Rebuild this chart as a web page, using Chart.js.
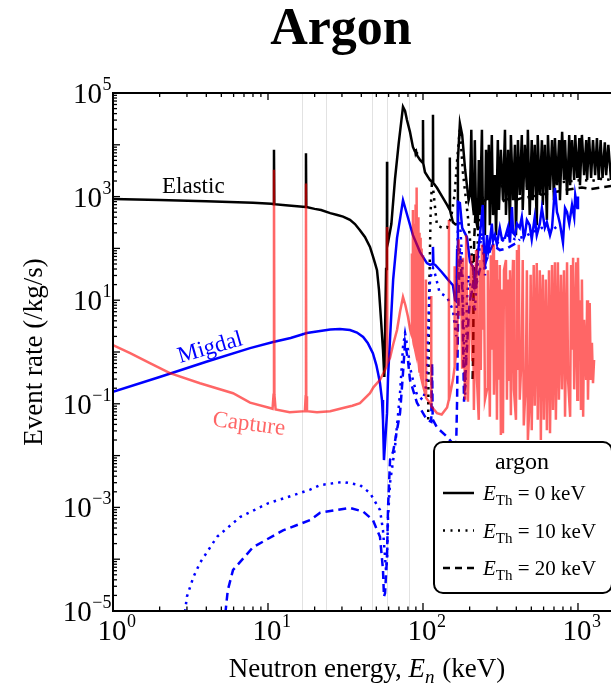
<!DOCTYPE html>
<html>
<head>
<meta charset="utf-8">
<script src="https://cdn.jsdelivr.net/npm/chart.js@4.4.1/dist/chart.umd.min.js"></script>
<style>html,body{margin:0;padding:0;background:#fff;}canvas{display:block;}</style>
</head>
<body>
<canvas id="c" width="611" height="688"></canvas>
<script>
// ---------------- data ----------------
const xTickExps = [0, 1, 2, 3];
const yTickExps = [5, 3, 1, -1, -3, -5];
const guideE = [16.6, 23.7, 46.9, 58.6, 81.2];
const legendThresholds = ['0', '10', '20'];

// Elastic, E_Th = 0 keV
const elasticE = [
 1,2,4,8,10.5,10.88,10.93,10.98,13,17.5,
 17.58,17.66,20,22,25.2,28,30.5,33.8,36.4,39.2,
 42.2,45.5,47.5,49,50.5,52,53.6,55.2,56.3,57.0,
 57.8,58.45,58.6,58.75,59.5,62.5,66,69.7,74.3,76.6,
 78.8,82.4,86.1,88.4,88.7,89.6,90.5,91.4,95.7,99.6,
 100,100.4,103,111,115.6,116,116.4,123,133,143,
 148.6,149,149.4,156,162,166,168,173,
 179,187,192,197,201,205,208,213,216,220,
 226,229,233,240,243,251,255,259,266,270,
 278,283,291,296,304,309,318,328,338,343,
 354,364,369,381,392,398,410,421,434,440,
 454,468,475,488,503,510,526,542,550,567,
 585,593,611,630,640,660,680,700,710,732,
 755,765,790,812,825,850,878,890,915,945,
 960,990,1020,1030,1060,1095,1130,1145,1180,1215,
 1250,1290,1325,1360,1400,1440,1490,1520,1570,1633];
const elasticR = [
 900,860,810,760,725,715,8000,715,680,630,
 6900,630,580,550,480,440,410,355,295,225,
 166,107,71,52,38,15.8,4.2,1.1,0.33,3,
 40,90,4700,110,130,295,2200,10700,54000,45000,
 30000,17800,9100,7600,8200,6800,7300,6300,5100,4500,
 30000,4400,2950,2080,1900,38000,1850,1480,1000,690,
 560,5700,540,320,290,296,5100,26000,
 15500,3300,1660,850,1070,19500,850,440,12300,355,
 225,5100,440,19500,690,180,8000,850,10000,280,
 15500,440,2600,180,12300,550,8000,850,19500,440,
 8000,225,15500,850,10000,180,12300,1070,15500,550,
 10000,1350,19500,440,12300,850,10000,280,15500,1070,
 12300,690,10000,355,15500,1350,12300,850,13500,1660,
 12300,850,17800,2100,12300,1070,15500,1660,12300,2100,
 15500,2300,13500,1660,15500,2600,12300,2100,14100,2300,
 12300,2600,13500,2100,12300,2300,11200,2600,10000,2100];

// Elastic, E_Th = 10 keV
const elastic10E = [
 108,109.5,112,114,116,123,133,143,152,160,
 166,171,173,176,181,195,201,208,216,220,
 226,233,243,259,270,291,313,338,364,404,
 454,503,585,680,790,915,1060,1215,1400,1633];
const elastic10R = [
 0.05,10,500,1660,1500,280,250,250,400,1100,
 5000,14000,20000,10000,2900,400,150,60,16,20,
 150,500,1000,1300,1850,1600,1530,1700,2100,1900,
 1500,1700,1600,1800,1900,2000,2100,2000,2200,2100];

// Elastic, E_Th = 20 keV
const elastic20E = [
 209,211,212,214,218,223,233,243,259,283,
 313,348,392,440,503,585,680,790,915,1060,
 1215,1400,1633];
const elastic20R = [
 0.3,1,20,150,500,700,600,800,900,800,
 750,900,850,950,1000,1100,1200,1300,1400,1500,
 1400,1500,1600];

// Migdal, E_Th = 0 keV
const migdalE = [
 1,2,4,7.66,10.8,14,17.8,21.7,25.2,29.1,
 33.8,37.5,41.1,44,47.5,50,51.3,52.8,54.4,55.2,
 56.0,58.6,59.5,62.5,64.2,68,74.3,80,86.1,95.7,
 106,111,115.2,116,116.8,120,132,145,156,161,
 164,166,168,173,179,192,
 201,210,216,233,243,247,251,259,264,270,
 278,283,291,300,313,323,338,354,364,375,
 381,392,404,421,434,447,454,468,488,503,
 526,542,567,585,611,630,660,680,710,732,
 742,765,800,825,850,878,915,945,960,990,
 1000];
const migdalR = [
 0.17,0.33,0.65,1.19,1.56,1.86,2.33,2.54,2.72,2.78,
 2.66,2.38,1.95,1.5,0.95,0.56,0.39,0.25,0.118,0.049,
 0.0082,0.066,0.33,5.6,25,160,850,390,180,85,
 52,48,50,107,50,48,35,25,19.5,10,
 9.5,93,790,750,250,165,
 55,44,22,180,690,100,42,180,90,130,
 300,140,180,120,250,150,160,260,130,630,
 200,180,300,250,400,160,180,350,280,150,
 400,180,300,600,250,320,180,250,1480,500,
 440,300,130,600,500,300,690,400,1070,600,
 1000];

// Migdal, E_Th = 10 keV
const migdal10E = [
 2.83,3.0,3.3,3.64,4.69,6.6,10,14,18.7,21.7,
 30.5,39.2,45.5,52.8,55.2,56.9,57.7,58.6,59.5,61.3,
 66,71.1,74.3,76.6,80,82.4,86.1,91.4,100,104,
 106,108,111,116,120,128,143,156,161,164,
 166,168,173,179,184,187,190,192,197,201,
 210,216,226,240,251,259,270,291,313,348,
 392,454,503,585,680,765];
const migdal10R = [
 5e-6,1.9e-5,4.5e-5,8.5e-5,2.7e-4,6.5e-4,1.2e-3,1.65e-3,2.2e-3,2.7e-3,
 3.1e-3,2.7e-3,1.9e-3,8.9e-4,3.6e-4,1.1e-4,6.2e-5,9.6e-5,6.5e-4,3e-3,
 0.0148,0.16,1.25,2.3,1.1,0.51,0.29,0.15,0.118,0.2,
 0.29,2.66,25,42,31,14,11.5,6.4,3,2,
 30,300,350,60,1.0,0.15,1,10,30,20,
 12,6,60,200,30,120,90,140,120,180,
 150,170,200,250,220,300];

// Migdal, E_Th = 20 keV
const migdal20E = [
 5.2,5.5,5.95,8.0,12.5,18.7,21.7,33.8,41.1,47.5,
 52.8,55.2,56.0,56.9,58.6,59.5,61.3,64.2,71.1,74.3,
 76.6,80,82.4,91.4,106,113,114.5,115.5,123,143,
 156,161,164,166,168,171,173,179,184,187,
 192,197,201,210,216,233,251,270,283,313,
 348,404,421];
const migdal20R = [
 5e-6,2.5e-5,6.2e-5,1.7e-4,3.6e-4,5.7e-4,7.9e-4,9.8e-4,8.3e-4,5.7e-4,
 2.7e-4,6.2e-5,1.9e-5,2.2e-5,1.1e-4,1.0e-3,8.2e-3,0.012,0.066,0.39,
 1.5,0.7,0.29,0.105,0.049,0.045,0.6,0.05,0.035,0.023,
 0.017,0.013,0.02,0.12,3,30,100,20,0.11,0.3,
 1.1,5,10,20,15,40,50,90,117,93,
 100,130,150];

// Capture
const captureE = [
 1,1.29,1.73,2.33,3.64,5.95,7.66,10.3,10.7,10.86,
 10.93,11.0,11.2,13.8,17.3,17.5,17.58,17.66,17.85,20.7,
 25.2,30.5,35,39.2,45.5,48,52.8,56.9,58.4,58.6,
 58.8,61.3,64.2,68,71.1,74.3,77,80,82.4,84.5,
 84.8,85.1,86.0,86.2,86.4,87.0,87.2,87.4,88.4,88.7,
 89.0,89.2,89.4,89.6,89.8,90.0,90.3,90.6,90.8,91.0,
 91.1,91.4,91.7,92.2,92.4,92.6,93.2,93.4,93.6,94.4,
 94.6,94.8,95.5,95.7,95.9,96.8,97.0,97.2,97.8,98,
 98.2,99.8,100,100.2,104.3,104.5,104.7,111,112.8,113,
 113.2,123,132,143,146.8,147,147.2,156,159.8,160,
 160.2,166,170,173,176,179,
 181,187,190,195,201,205,208,210,213,220,
 223,229,233,236,240,243,247,251,259,262,
 270,274,278,283,287,296,300,304,309,313,
 318,323,328,333,343,348,354,359,364,369,
 375,381,386,398,404,410,415,421,434,440,
 447,461,468,475,488,495,503,518,526,542,
 550,567,576,585,593,602,620,630,650,660,
 680,690,710,720,742,753,776,788,812,825,
 850,863,890,903,915,930,945,975,990,1000,
 1015,1030,1045,1060,1080,1095,1130,1145,1160,1190,
 1210,1230,1250,1270];
const captureR = [
 1.36,0.95,0.61,0.39,0.25,0.16,0.105,0.083,0.08,0.15,
 3300,0.15,0.078,0.069,0.072,0.14,1800,0.14,0.072,0.069,
 0.072,0.083,0.092,0.103,0.16,0.21,0.29,0.45,0.55,260,
 0.6,0.77,1.4,2.66,6,11.5,8,4.8,2.8,2.1,
 80,2.0,1.8,550,1.7,1.5,120,1.4,1.2,300,
 1.1,1.05,700,1.0,1.0,200,0.95,0.92,900,0.9,
 0.9,1500,0.85,0.8,350,0.75,0.7,400,0.65,0.5,
 200,0.48,0.4,160,0.38,0.34,150,0.32,0.3,100,
 0.29,0.23,74,0.22,0.14,25,0.13,0.104,0.095,12,
 0.09,0.066,0.062,0.085,0.12,355,0.12,0.29,0.5,45,
 0.55,1.3,150,5,60,0.5,
 66,0.12,180,0.11,10,74,0.7,48,0.076,93,
 0.29,0.049,60,0.45,117,2.7,80,0.12,0.19,38,
 0.056,74,1.1,117,0.15,60,0.049,25,0.29,48,
 0.025,16,0.027,38,60,0.12,25,0.29,38,0.06,
 10,60,0.19,0.049,93,0.45,117,0.12,1.1,60,
 0.038,0.29,38,0.02,0.12,31,0.031,48,0.092,52,
 0.049,38,0.02,6.4,31,0.049,25,0.031,38,0.027,
 48,0.076,54,0.049,54,0.12,31,0.19,38,0.056,
 54,0.29,0.056,48,1.1,66,0.19,54,0.12,66,
 1.7,10,0.076,25,0.056,4.2,0.29,10,0.12,8.8,
 0.29,1.5,0.25,0.7];

// ---------------- chart ----------------
const SERIF = "'Liberation Serif','Times New Roman',serif";
const BLACK = '#000000', BLUE = '#0000ff', RED = 'rgba(255,0,0,0.6)';
const DOT = [2.5, 5], DASH = [8, 5];

function pts(E, R) { return E.map((e, i) => ({ x: e, y: R[i] })); }
function ds(E, R, color, dash, order, w) {
  return { data: pts(E, R), showLine: true, borderColor: color, borderWidth: w || 2.5,
           borderDash: dash, pointRadius: 0, pointHoverRadius: 0, order: order,
           tension: 0, fill: false, borderCapStyle: 'butt', borderJoinStyle: 'miter' };
}

function sciLabel(ctx, exp, x, y, align) {
  const base = '10', sup = exp < 0 ? '\u2212' + (-exp) : String(exp);
  ctx.font = '29px ' + SERIF; const wb = ctx.measureText(base).width;
  ctx.font = '18px ' + SERIF; const ws = ctx.measureText(sup).width;
  const x0 = align === 'right' ? x - wb - ws : x - wb / 2;
  ctx.textAlign = 'left'; ctx.textBaseline = 'alphabetic'; ctx.fillStyle = '#000';
  ctx.font = '29px ' + SERIF; ctx.fillText(base, x0, y);
  ctx.font = '18px ' + SERIF; ctx.fillText(sup, x0 + wb + 0.5, y - 13);
}
function seg(ctx, x1, y1, x2, y2) { ctx.beginPath(); ctx.moveTo(x1, y1); ctx.lineTo(x2, y2); ctx.stroke(); }
function rrect(ctx, x, y, w, h, r) {
  ctx.beginPath();
  ctx.moveTo(x + r, y); ctx.lineTo(x + w - r, y); ctx.arcTo(x + w, y, x + w, y + r, r);
  ctx.lineTo(x + w, y + h - r); ctx.arcTo(x + w, y + h, x + w - r, y + h, r);
  ctx.lineTo(x + r, y + h); ctx.arcTo(x, y + h, x, y + h - r, r);
  ctx.lineTo(x, y + r); ctx.arcTo(x, y, x + r, y, r); ctx.closePath();
}

const decor = {
  id: 'decor',
  beforeDatasetsDraw(chart) {
    const ctx = chart.ctx, a = chart.chartArea, xs = chart.scales.x;
    ctx.save();
    ctx.strokeStyle = '#e2e2e2'; ctx.lineWidth = 1;
    guideE.forEach(e => { const px = Math.round(xs.getPixelForValue(e)) + 0.5; seg(ctx, px, a.top, px, a.bottom); });
    ctx.restore();
  },
  afterDatasetsDraw(chart) {
    const ctx = chart.ctx, a = chart.chartArea, xs = chart.scales.x, ys = chart.scales.y;
    ctx.save();
    ctx.strokeStyle = '#000'; ctx.lineWidth = 2;
    ctx.beginPath(); ctx.moveTo(a.right + 6, a.top); ctx.lineTo(a.left, a.top); ctx.lineTo(a.left, a.bottom); ctx.lineTo(a.right + 6, a.bottom); ctx.stroke();
    ctx.lineWidth = 1.3;
    for (let k = 0; k <= 3; k++) for (let m = 1; m <= 9; m++) {
      const v = m * Math.pow(10, k); if (v > xs.max) break;
      const px = xs.getPixelForValue(v);
      seg(ctx, px, a.bottom, px, a.bottom - (m === 1 ? 8 : 4.5));
      seg(ctx, px, a.top, px, a.top + (m === 1 ? 7 : 4));
    }
    for (let k = -5; k <= 5; k++) for (let m = 1; m <= 9; m++) {
      const v = m * Math.pow(10, k); if (v > ys.max * 1.0001) break;
      const py = ys.getPixelForValue(v);
      seg(ctx, a.left, py, a.left + (m === 1 ? 7 : 4), py);
    }
    xTickExps.forEach(k => sciLabel(ctx, k, xs.getPixelForValue(Math.pow(10, k)) - 1, 640, 'center'));
    yTickExps.forEach(k => sciLabel(ctx, k, 111, ys.getPixelForValue(Math.pow(10, k)) + 10, 'right'));

    ctx.fillStyle = '#000'; ctx.textBaseline = 'alphabetic';
    const p1 = 'Neutron energy, ', p3 = ' (keV)';
    ctx.font = '27px ' + SERIF; const w1 = ctx.measureText(p1).width, w3 = ctx.measureText(p3).width;
    ctx.font = 'italic 27px ' + SERIF; const wE = ctx.measureText('E').width;
    ctx.font = 'italic 19px ' + SERIF; const wn = ctx.measureText('n').width;
    let tx = 367 - (w1 + wE + wn + 1 + w3) / 2; const tb = 677;
    ctx.textAlign = 'left';
    ctx.font = '27px ' + SERIF; ctx.fillText(p1, tx, tb); tx += w1;
    ctx.font = 'italic 27px ' + SERIF; ctx.fillText('E', tx, tb); tx += wE;
    ctx.font = 'italic 19px ' + SERIF; ctx.fillText('n', tx, tb + 6); tx += wn + 1;
    ctx.font = '27px ' + SERIF; ctx.fillText(p3, tx, tb);

    ctx.save();
    ctx.translate(42, 352); ctx.rotate(-Math.PI / 2);
    ctx.textAlign = 'center'; ctx.font = '27px ' + SERIF;
    ctx.fillText('Event rate (/kg/s)', 0, 0);
    ctx.restore();

    ctx.textAlign = 'center'; ctx.font = 'bold 52px ' + SERIF;
    ctx.fillText('Argon', 341, 44);

    ctx.textAlign = 'left'; ctx.font = '23px ' + SERIF;
    ctx.fillStyle = BLACK; ctx.fillText('Elastic', 162, 193);
    ctx.save(); ctx.translate(180, 363); ctx.rotate(-16 * Math.PI / 180);
    ctx.fillStyle = BLUE; ctx.fillText('Migdal', 0, 0); ctx.restore();
    ctx.save(); ctx.translate(212, 426); ctx.rotate(7 * Math.PI / 180);
    ctx.fillStyle = RED; ctx.fillText('Capture', 0, 0); ctx.restore();

    rrect(ctx, 434, 442, 178, 151, 9);
    ctx.fillStyle = '#fff'; ctx.fill(); ctx.lineWidth = 2; ctx.strokeStyle = '#000'; ctx.stroke();
    ctx.fillStyle = '#000'; ctx.textAlign = 'center'; ctx.font = '24px ' + SERIF;
    ctx.fillText('argon', 522, 469);
    const dashes = [[], [2, 5.5], [7, 5]];
    legendThresholds.forEach((t, i) => {
      const ly = 493 + i * 37.5, lb = ly + 7;
      ctx.setLineDash(dashes[i]); ctx.lineWidth = 2.5; seg(ctx, 443, ly, 474, ly); ctx.setLineDash([]);
      ctx.textAlign = 'left';
      let x = 483;
      ctx.font = 'italic 21px ' + SERIF; ctx.fillText('E', x, lb); x += ctx.measureText('E').width;
      ctx.font = '15px ' + SERIF; ctx.fillText('Th', x, lb + 5); x += ctx.measureText('Th').width;
      ctx.font = '21px ' + SERIF; ctx.fillText(' = ' + t + ' keV', x, lb);
    });
    ctx.restore();
  }
};

new Chart(document.getElementById('c').getContext('2d'), {
  type: 'scatter',
  data: { datasets: [
    ds(captureE, captureR, RED, [], 0),
    ds(migdalE, migdalR, BLUE, [], 1),
    ds(migdal10E, migdal10R, BLUE, DOT, 2),
    ds(migdal20E, migdal20R, BLUE, DASH, 2),
    ds(elasticE, elasticR, BLACK, [], 3),
    ds(elastic10E, elastic10R, BLACK, DOT, 3),
    ds(elastic20E, elastic20R, BLACK, DASH, 3)
  ] },
  options: {
    responsive: false, animation: false, devicePixelRatio: 1,
    layout: { padding: { left: 113, top: 93, right: 0, bottom: 77 } },
    plugins: { legend: { display: false }, tooltip: { enabled: false }, title: { display: false } },
    events: [],
    scales: {
      x: { type: 'logarithmic', min: 1, max: 1633, display: false },
      y: { type: 'logarithmic', min: 1e-5, max: 1e5, display: false }
    }
  },
  plugins: [decor]
});
</script>
</body>
</html>
